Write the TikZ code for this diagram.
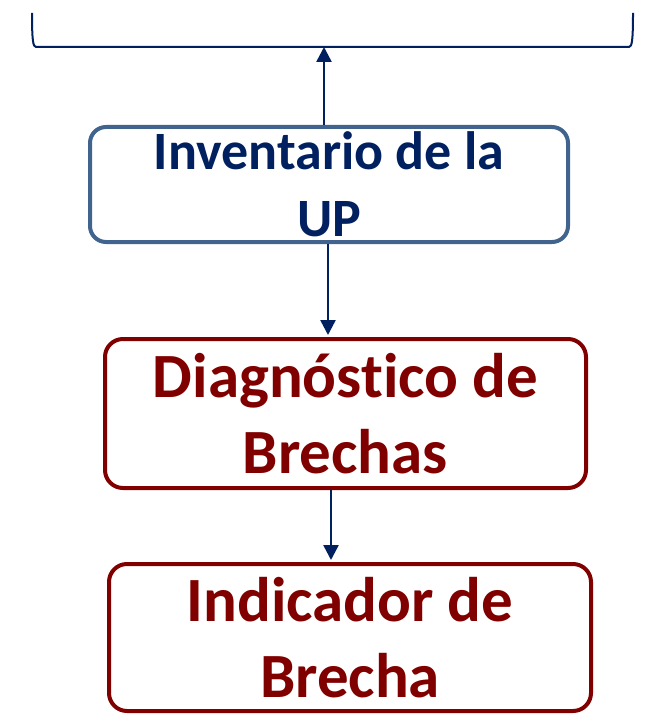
\documentclass[tikz,border=0pt]{standalone}
\usepackage{fontspec}
\setmainfont{Carlito}[Ligatures={CommonOff,ContextualOff}]
\usetikzlibrary{arrows.meta}
\definecolor{navy}{HTML}{002060}
\definecolor{steel}{HTML}{41648F}
\definecolor{wine}{HTML}{800000}
\begin{document}
\begin{tikzpicture}[x=1pt,y=-1pt,
    bluebox/.style={draw=steel,line width=4pt,rounded corners=16pt,align=center,inner sep=0pt,text=navy,font=\bfseries\fontsize{54}{67}\selectfont},
    redbox/.style={draw=wine,line width=4pt,rounded corners=18pt,align=center,inner sep=0pt,text=wine,font=\bfseries\fontsize{63}{76}\selectfont},
    flow/.style={navy,line width=2.5pt,-{Triangle[length=15pt,width=15pt]}}]
      \useasboundingbox (0,0) rectangle (654,714);
      \draw[navy,line width=2pt] (32,13) .. controls (32,40) and (33,47) .. (36,47) -- (629,47) .. controls (632,47) and (633,40) .. (633,13);
      \coordinate (brk) at (324,47);
      \node[bluebox,minimum width=478pt,minimum height=115pt] (inv) at (329,184.5) {Inventario de la\\UP};
      \node[redbox,minimum width=481pt,minimum height=149pt] (diag) at (345.5,413.5) {Diagnóstico de\\Brechas};
      \node[redbox,minimum width=482pt,minimum height=147pt] (ind) at (350,637.5) {Indicador de\\Brecha};
      \draw[flow] ([xshift=-5pt]inv.north) -- (brk);
      \draw[flow,shorten >=2pt] ([xshift=-1pt]inv.south) -- ([xshift=-1pt]inv.south |- diag.north);
      \draw[flow,shorten >=2pt] ([xshift=-14.5pt]diag.south) -- ([xshift=-14.5pt]diag.south |- ind.north);
    \end{tikzpicture}
\end{document}
